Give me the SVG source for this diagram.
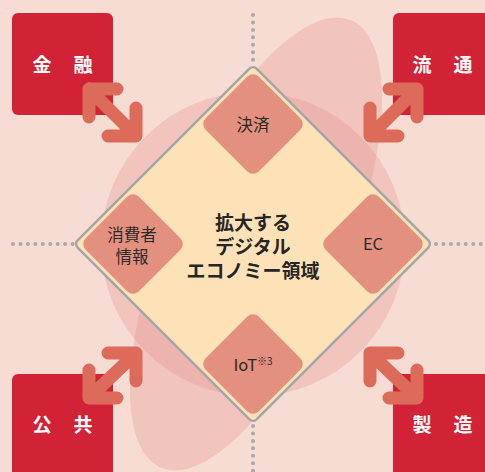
<svg xmlns="http://www.w3.org/2000/svg" width="485" height="472" viewBox="0 0 485 472">
<defs>
<style>
.bg{fill:#f7dcd3}
.blob{fill:#e58f8f;fill-opacity:0.3}
.box{fill:#d12236}
.boxt{font-family:"Noto Sans CJK JP",sans-serif;font-weight:700;font-size:19px;fill:#ffffff;text-anchor:middle}
.arr{fill:none;stroke:#dd6b5a;stroke-width:13;stroke-linecap:round;stroke-linejoin:round}
.dots{fill:none;stroke:#a7a9ab;stroke-width:4;stroke-linecap:round;stroke-dasharray:0 7.45}
.main{fill:#fde2b8;stroke:#a2a6a8;stroke-width:2.5}
.sd{fill:#e4907f}
.st{font-family:"Noto Sans CJK JP",sans-serif;font-size:16.5px;fill:#2a2a2a;text-anchor:middle}
.ct{font-family:"Noto Sans CJK JP",sans-serif;font-weight:700;font-size:19px;fill:#262626;text-anchor:middle}
</style>
</defs>
<rect class="bg" x="0" y="0" width="485" height="472"/>
<circle class="blob" cx="253" cy="244" r="152"/>
<ellipse class="blob" cx="0" cy="0" rx="243" ry="90" transform="translate(256,244) rotate(-67)"/>

<g id="finance">
<rect class="box" x="12" y="13" width="101" height="102" rx="6"/>
<text class="boxt" x="42 83" y="72">金融</text>
</g>
<g id="distribution">
<rect class="box" x="393" y="13" width="100" height="102" rx="6"/>
<text class="boxt" x="422 463" y="72">流通</text>
</g>
<g id="public">
<rect class="box" x="12" y="374" width="101" height="106" rx="6"/>
<text class="boxt" x="42 83" y="432">公共</text>
</g>
<g id="manufacturing">
<rect class="box" x="393" y="374" width="100" height="106" rx="6"/>
<text class="boxt" x="422 463" y="432">製造</text>
</g>

<g id="connectors">
<path class="dots" d="M253,15 V61"/>
<path class="dots" d="M253,426 V472"/>
<path class="dots" d="M13,244 H73"/>
<path class="dots" d="M436,244 H485"/>
<path class="arr" d="M89,89 L136,136 M117,89 L89,89 L89,117 M108,136 L136,136 L136,108"/>
<path class="arr" d="M417,89 L370,136 M389,89 L417,89 L417,117 M398,136 L370,136 L370,108"/>
<path class="arr" d="M89,398 L136,353 M117,398 L89,398 L89,370 M108,353 L136,353 L136,381"/>
<path class="arr" d="M417,398 L370,353 M389,398 L417,398 L417,370 M398,353 L370,353 L370,381"/>
</g>

<g id="digital-economy">
<rect class="main" x="-126.5" y="-126.5" width="253" height="253" rx="5" transform="translate(253,244) rotate(45)"/>
<text class="ct" x="253" y="230">拡大する<tspan x="253" dy="24">デジタル</tspan><tspan x="253" dy="24">エコノミー領域</tspan></text>
</g>

<g id="payment">
<rect class="sd" x="-37.5" y="-37.5" width="75" height="75" rx="8" transform="translate(253,124) rotate(45)"/>
<text class="st" x="253" y="131">決済</text>
</g>
<g id="consumer-info">
<rect class="sd" x="-37.5" y="-37.5" width="75" height="75" rx="8" transform="translate(133,244) rotate(45)"/>
<text class="st" x="132" y="241">消費者<tspan x="132" dy="22">情報</tspan></text>
</g>
<g id="ec">
<rect class="sd" x="-37.5" y="-37.5" width="75" height="75" rx="8" transform="translate(373,244) rotate(45)"/>
<text class="st" x="373" y="250">EC</text>
</g>
<g id="iot">
<rect class="sd" x="-37.5" y="-37.5" width="75" height="75" rx="8" transform="translate(253,364) rotate(45)"/>
<text class="st" x="253" y="371">IoT<tspan font-size="10" dy="-6">※3</tspan></text>
</g>
</svg>
